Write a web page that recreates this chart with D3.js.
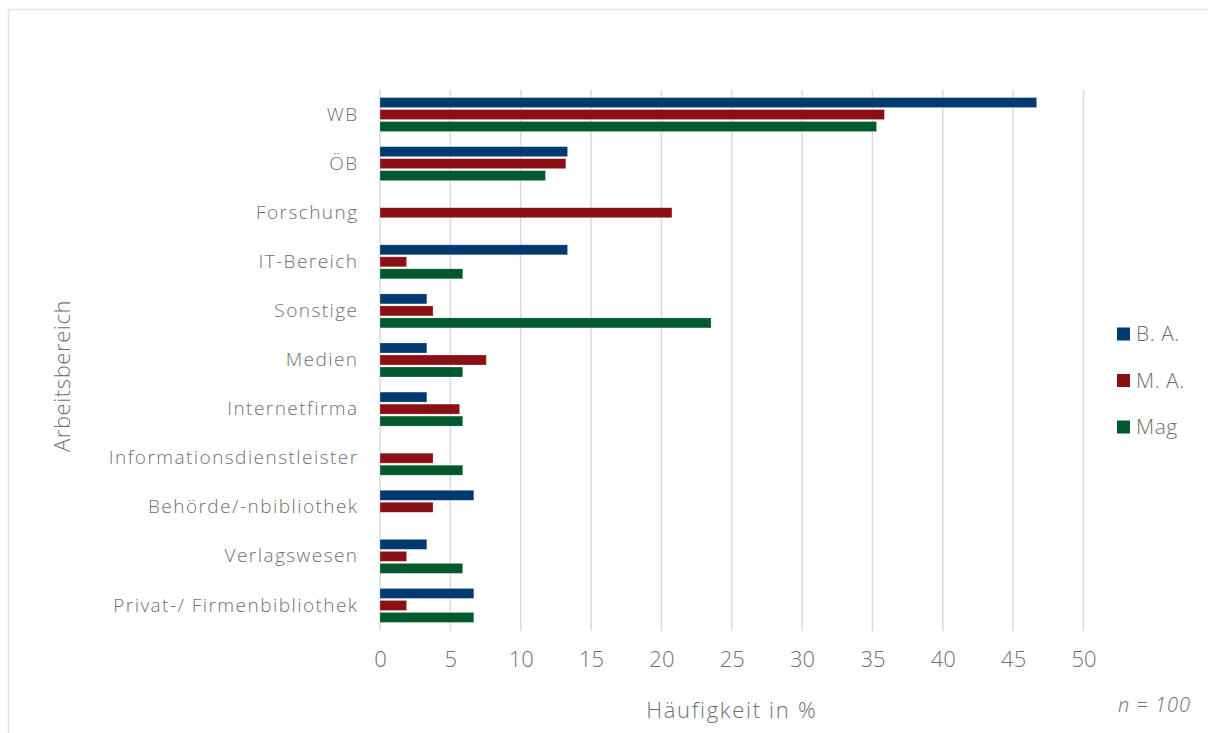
<!DOCTYPE html>
<html><head><meta charset="utf-8">
<script src="https://cdn.jsdelivr.net/npm/d3@7"></script>
<style>body{margin:0;background:#fff;}svg{display:block;}</style>
</head><body>
<svg id="c" width="1208" height="733"></svg>
<script>
const categories = ["WB","ÖB","Forschung","IT-Bereich","Sonstige","Medien","Internetfirma","Informationsdienstleister","Behörde/-nbibliothek","Verlagswesen","Privat-/ Firmenbibliothek"];
const seriesNames = ["B. A.","M. A.","Mag"];
const baValues  = [46.67,13.33,0,13.33,3.33,3.33,3.33,0,6.67,3.33,6.67];
const maValues  = [35.85,13.21,20.75,1.89,3.77,7.55,5.66,3.77,3.77,1.89,1.89];
const magValues = [35.29,11.76,0,5.88,23.53,5.88,5.88,5.88,0,5.88,6.67];
const xTicks = [0,5,10,15,20,25,30,35,40,45,50];
const colors = ["#013A70","#8B1015","#005A2E"];

const values = [baValues, maValues, magValues];
const svg = d3.select("#c");
const font = "'Open Sans', sans-serif";
const textColor = "#707070";
const fw = 300;

svg.append("rect").attr("x",8.5).attr("y",9.5).attr("width",1215).attr("height",740)
  .attr("fill","none").attr("stroke","#e2e2e2").attr("stroke-width",1.5);

const x = d3.scaleLinear().domain([0,50]).range([380,1083.5]);
const y0 = d3.scaleBand().domain(categories).range([90,630]);
const groupH = 34;
const y1 = d3.scaleBand().domain(seriesNames).range([0,groupH]).paddingInner(1/6);

// gridlines
svg.append("g").selectAll("line").data(xTicks).join("line")
  .attr("x1",d=>x(d)).attr("x2",d=>x(d)).attr("y1",90).attr("y2",631)
  .attr("stroke","#dcdcdc").attr("stroke-width",1.6);

// bars
const data = [];
categories.forEach((c,ci)=>seriesNames.forEach((s,si)=>data.push({c,s,v:values[si][ci],si})));
svg.append("g").selectAll("rect").data(data.filter(d=>d.v>0)).join("rect")
  .attr("x",x(0)).attr("y",d=>y0(d.c)+(y0.bandwidth()-groupH)/2+y1(d.s))
  .attr("width",d=>x(d.v)-x(0)).attr("height",y1.bandwidth())
  .attr("fill",d=>colors[d.si]).attr("stroke","#ffffff").attr("stroke-opacity",0.4).attr("stroke-width",0.6);

// x axis
const xAxis = d3.axisBottom(x).tickValues(xTicks).tickSize(0).tickPadding(0).tickFormat(d3.format("d"));
const gx = svg.append("g").attr("transform","translate(0,651)").call(xAxis);
gx.select(".domain").remove();
gx.selectAll("text").attr("font-family",font).attr("font-weight",fw).attr("font-size",22).attr("fill",textColor).attr("dy","0.71em");

// y axis
const yAxis = d3.axisLeft(y0).tickSize(0).tickPadding(21.5);
const gy = svg.append("g").attr("transform",`translate(${x(0)},0)`).call(yAxis);
gy.select(".domain").remove();
gy.selectAll("text").attr("font-family",font).attr("font-weight",fw).attr("font-size",19)
  .attr("letter-spacing","1.45px").attr("fill",textColor);

// axis titles
svg.append("text").attr("x",(x(0)+x(50))/2).attr("y",718).attr("text-anchor","middle")
  .attr("font-family",font).attr("font-weight",fw).attr("font-size",22).attr("letter-spacing","1.7px")
  .attr("fill",textColor).text("Häufigkeit in %");
svg.append("text").attr("transform","translate(70,376) rotate(-90)").attr("text-anchor","middle")
  .attr("font-family",font).attr("font-weight",fw).attr("font-size",22).attr("letter-spacing","0.6px")
  .attr("fill",textColor).text("Arbeitsbereich");

// legend
const lg = svg.append("g").selectAll("g").data(seriesNames).join("g")
  .attr("transform",(d,i)=>`translate(1117,${334+i*46.5})`);
lg.append("rect").attr("x",0).attr("y",-6.5).attr("width",13).attr("height",13).attr("fill",(d,i)=>colors[i]);
lg.append("text").attr("x",19).attr("y",0).attr("dy","0.35em").attr("font-family",font).attr("font-weight",fw).attr("font-size",21)
  .attr("letter-spacing","0.5px").attr("fill",textColor).text(d=>d);

// n note
svg.append("text").attr("x",1191).attr("y",712).attr("text-anchor","end").attr("font-family",font).attr("font-weight",fw)
  .attr("font-size",20).attr("font-style","italic").attr("letter-spacing","1px").attr("fill",textColor).text("n = 100");
</script>
</body></html>
